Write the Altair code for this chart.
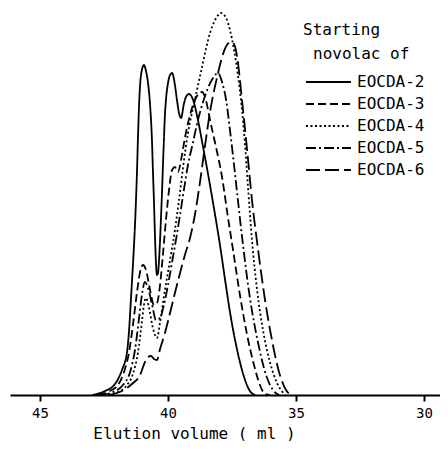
import altair as alt
import pandas as pd

series_names = ["EOCDA-2", "EOCDA-3", "EOCDA-4", "EOCDA-5", "EOCDA-6"]

vol_2 = [42.97, 42.46, 42.07, 41.80, 41.60, 41.52, 41.45, 41.37, 41.29, 41.25, 41.21, 41.17, 41.13,
         41.09, 41.02, 40.94, 40.86, 40.78, 40.70, 40.62, 40.59, 40.55, 40.51, 40.47, 40.43, 40.39,
         40.35, 40.31, 40.27, 40.23, 40.20, 40.16, 40.12, 40.08, 40.00, 39.92, 39.84,
         39.73, 39.65, 39.57, 39.49, 39.38, 39.30, 39.18, 39.02,
         38.83, 38.63, 38.36, 38.16, 37.97, 37.77, 37.58, 37.38, 37.19, 36.99, 36.80, 36.60]
resp_2 = [0, 4, 11, 25, 43, 65, 95, 130, 170, 195, 225, 260, 290,
          310, 325, 330, 324, 312, 290, 250, 225, 195, 160, 132, 120, 122,
          135, 155, 180, 205, 228, 255, 280, 295, 312, 320, 322,
          310, 295, 282, 277, 291, 298, 301, 295,
          275, 248, 210, 180, 150, 115, 83, 55, 33, 15, 4, 0]

vol_3 = [42.73, 42.27, 41.95, 41.72, 41.52, 41.37, 41.21, 41.09, 40.98, 40.86, 40.70, 40.55, 40.43,
         40.31, 40.20, 40.08, 39.96, 39.84, 39.73, 39.61, 39.49, 39.34, 39.14, 38.91, 38.67, 38.52,
         38.36, 38.16, 37.89, 37.66, 37.46, 37.19, 36.91, 36.64, 36.41, 36.21, 36.02]
resp_3 = [0, 4, 10, 23, 43, 70, 103, 123, 130, 125, 105, 90, 92,
          110, 140, 175, 205, 225, 228, 223, 235, 257, 280, 297, 303, 295,
          275, 252, 218, 178, 145, 100, 60, 30, 10, 1, 0]

vol_4 = [42.50, 41.95, 41.60, 41.37, 41.17, 41.02, 40.94, 40.86, 40.74, 40.59, 40.43, 40.31, 40.12,
         39.92, 39.73, 39.57, 39.41, 39.22, 38.95, 38.67, 38.36, 38.16, 37.93, 37.73, 37.58, 37.42,
         37.27, 37.11, 36.99, 36.88, 36.72, 36.52, 36.29, 36.02, 35.74, 35.43]
resp_4 = [0, 3, 10, 21, 43, 73, 90, 97, 87, 67, 57, 73, 105,
          135, 165, 195, 228, 262, 295, 328, 362, 375, 382, 377, 365, 345,
          320, 285, 250, 210, 155, 105, 65, 33, 12, 0]

vol_5 = [42.66, 42.15, 41.76, 41.48, 41.29, 41.13, 41.02, 40.90, 40.78, 40.62, 40.47, 40.31, 40.16,
         40.00, 39.84, 39.69, 39.53, 39.38, 39.22, 39.02, 38.83, 38.63, 38.44, 38.24, 38.05, 37.89,
         37.73, 37.58, 37.42, 37.27, 37.07, 36.80, 36.48, 36.17, 35.90, 35.66]
resp_5 = [0, 3, 10, 23, 45, 77, 100, 113, 107, 90, 75, 77, 90,
          110, 133, 155, 180, 205, 230, 253, 275, 293, 307, 317, 322, 313,
          295, 265, 230, 195, 150, 97, 52, 20, 5, 0]

vol_6 = [42.27, 41.80, 41.41, 41.09, 40.90, 40.78, 40.66, 40.55, 40.43, 40.31, 40.12, 39.92, 39.73,
         39.53, 39.34, 39.14, 38.95, 38.75, 38.55, 38.36, 38.09, 37.85, 37.70, 37.54, 37.42, 37.30,
         37.11, 36.91, 36.72, 36.48, 36.21, 35.94, 35.63, 35.39, 35.20]
resp_6 = [0, 4, 11, 20, 33, 38, 39, 36, 35, 46, 62, 82, 102,
          122, 140, 157, 180, 213, 250, 283, 317, 341, 350, 353, 351, 338,
          295, 245, 195, 145, 95, 55, 20, 5, 0]

tick_values = [45, 40, 35, 30]
x_title = "Elution volume ( ml )"
legend_title = ["Starting", "novolac of"]

volumes = [vol_2, vol_3, vol_4, vol_5, vol_6]
responses = [resp_2, resp_3, resp_4, resp_5, resp_6]

rows = []
for name, vs, rs in zip(series_names, volumes, responses):
    for v, r in zip(vs, rs):
        rows.append({"series": name, "volume": v, "response": r})
df = pd.DataFrame(rows)

dashes = [[1, 0], [8, 4], [2, 2.5], [10, 3, 2, 3], [14, 5]]
FONT = "DejaVu Sans Mono"

dash_scale = alt.Scale(domain=series_names, range=dashes)

lines = alt.Chart(df).mark_line(
    color="black", strokeWidth=1.8, interpolate="monotone"
).encode(
    x=alt.X("volume:Q",
            scale=alt.Scale(domain=[29.375, 46.172], reverse=True, nice=False, zero=False),
            axis=alt.Axis(values=tick_values, title=x_title, grid=False,
                          tickSize=6, tickWidth=2, tickColor="black",
                          domainWidth=2, domainColor="black",
                          labelFont=FONT, labelFontSize=14, labelColor="black",
                          labelPadding=5, labelFlush=False,
                          titleFont=FONT, titleFontSize=16, titleFontWeight="normal",
                          titleColor="black", titleX=184, titleY=43,
                          titleAlign="center", titleBaseline="alphabetic")),
    y=alt.Y("response:Q", scale=alt.Scale(domain=[0, 387], nice=False), axis=None),
    strokeDash=alt.StrokeDash("series:N", scale=dash_scale, legend=None),
    detail="series:N",
    order=alt.Order("volume:Q", sort="descending"),
)

dummy = pd.DataFrame({"a": [0]})
layers = [lines]

layers.append(alt.Chart(dummy).mark_text(
    align="left", baseline="alphabetic", font=FONT, fontSize=16, color="black"
).encode(x=alt.value(293), y=alt.value(27), text=alt.value(legend_title[0])))
layers.append(alt.Chart(dummy).mark_text(
    align="left", baseline="alphabetic", font=FONT, fontSize=16, color="black"
).encode(x=alt.value(303), y=alt.value(51), text=alt.value(legend_title[1])))

legend_y = [74, 96, 118, 140, 162]
for name, dash, ly in zip(series_names, dashes, legend_y):
    layers.append(alt.Chart(dummy).mark_rule(
        color="black", strokeWidth=1.8, strokeDash=dash
    ).encode(x=alt.value(296), x2=alt.value(341), y=alt.value(ly)))
    layers.append(alt.Chart(dummy).mark_text(
        align="left", baseline="middle", font=FONT, fontSize=16, color="black"
    ).encode(x=alt.value(347), y=alt.value(ly), text=alt.value(name)))

chart = alt.layer(*layers).properties(
    width=430, height=387,
    padding={"left": 2, "top": 0, "right": 0, "bottom": 0},
).configure_view(stroke=None)

chart.save("out.html", embed_options={"renderer": "svg", "actions": False})
